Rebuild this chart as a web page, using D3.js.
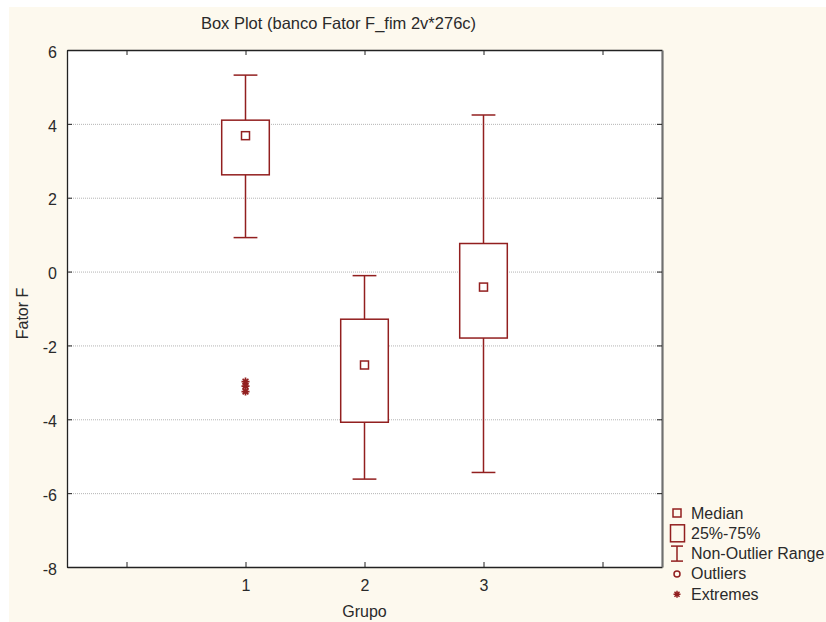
<!DOCTYPE html>
<html>
<head>
<meta charset="utf-8">
<script src="https://cdn.jsdelivr.net/npm/d3@7"></script>
<style>
  body { margin: 0; background: #ffffff; }
  text { font-family: "Liberation Sans", Arial, sans-serif; fill: #2a2a2a; }
</style>
</head>
<body>
<script>
// Box plot values
const groups = [1, 2, 3];
const medians = [3.68, -2.53, -0.42];
const q1 = [2.62, -4.08, -1.80];
const q3 = [4.10, -1.29, 0.76];
const whiskerLow = [0.92, -5.62, -5.44];
const whiskerHigh = [5.32, -0.11, 4.24];
const extremeGroup = [1, 1, 1];
const extremeValues = [-2.98, -3.10, -3.25];
const yTicks = [6, 4, 2, 0, -2, -4, -6, -8];
const xTicks = [0, 1, 2, 3, 4];
const legendItems = ["Median", "25%-75%", "Non-Outlier Range", "Outliers", "Extremes"];

const width = 826, height = 622;
const margin = { top: 50, bottom: 55, left: 67, right: 164 };
const red = "#921f1f";

let svg = d3.select('body')
            .append('svg')
            .attr('width', width)
            .attr('height', height);

// cream background
svg.append('rect')
   .attr('x', 9).attr('y', 7)
   .attr('width', width - 9).attr('height', height - 7)
   .attr('fill', '#fdf9ee');

const x = d3.scaleLinear()
    .domain([-0.5, 4.5])
    .range([margin.left, width - margin.right]);

const y = d3.scaleLinear()
    .domain([-8, 6])
    .range([height - margin.bottom, margin.top]);

// plot area
svg.append('rect')
   .attr('x', x(-0.5)).attr('y', y(6))
   .attr('width', x(4.5) - x(-0.5)).attr('height', y(-8) - y(6))
   .attr('fill', '#ffffff');

// grid lines
svg.append('g')
   .selectAll('line')
   .data(yTicks.filter(d => d > -8 && d < 6))
   .enter()
   .append('line')
   .attr('x1', x(-0.5)).attr('x2', x(4.5))
   .attr('y1', d => y(d) + 0.5).attr('y2', d => y(d) + 0.5)
   .attr('stroke', '#b4b4b4')
   .attr('stroke-dasharray', '1,1');

// axes
const axisLeft = svg.append('g')
   .attr('transform', `translate(${x(-0.5)},0)`)
   .call(d3.axisLeft(y).tickValues(yTicks).tickSizeInner(-5).tickSizeOuter(0).tickPadding(10)
         .tickFormat(d => String(d)));

const axisBottom = svg.append('g')
   .attr('transform', `translate(0,${y(-8)})`)
   .call(d3.axisBottom(x).tickValues(xTicks).tickSizeInner(-5).tickSizeOuter(0).tickPadding(13)
         .tickFormat(d => groups.includes(d) ? String(d) : ''));

svg.append('g')
   .attr('transform', `translate(0,${y(6)})`)
   .call(d3.axisTop(x).tickValues(xTicks).tickSizeInner(-5).tickSizeOuter(0).tickFormat(''));

const axisRight = svg.append('g')
   .attr('transform', `translate(${x(4.5)},0)`)
   .call(d3.axisRight(y).tickValues(yTicks).tickSizeInner(-5).tickSizeOuter(0).tickFormat(''));

svg.selectAll('.tick line').attr('stroke', '#222');
svg.selectAll('.domain').attr('stroke', '#222').attr('stroke-width', 1.3);
axisRight.select('.domain').attr('stroke', '#707070').attr('stroke-width', 2.2);
svg.selectAll('.tick text')
   .attr('font-size', 16)
   .attr('font-family', '"Liberation Sans", Arial, sans-serif')
   .attr('fill', '#2a2a2a');
axisLeft.selectAll('.tick text').attr('dy', '0.45em');

// title
svg.append('text')
   .attr('x', 338.5)
   .attr('y', 28.5)
   .attr('text-anchor', 'middle')
   .attr('font-size', 16.5)
   .text('Box Plot (banco Fator F_fim 2v*276c)');

// axis labels
svg.append('text')
   .attr('x', x(2))
   .attr('y', 617)
   .attr('text-anchor', 'middle')
   .attr('font-size', 16)
   .text('Grupo');

svg.append('text')
   .attr('transform', `translate(27.5,${(y(6) + y(-8)) / 2 + 5}) rotate(-90)`)
   .attr('text-anchor', 'middle')
   .attr('font-size', 16)
   .text('Fator F');

// asterisk symbol for extremes
const asterisk = {
    draw(ctx, size) {
        const r = Math.sqrt(size) / 2, d = r * 0.72;
        ctx.moveTo(0, -r); ctx.lineTo(0, r);
        ctx.moveTo(-r, 0); ctx.lineTo(r, 0);
        ctx.moveTo(-d, -d); ctx.lineTo(d, d);
        ctx.moveTo(-d, d); ctx.lineTo(d, -d);
    }
};

const boxHalf = 0.2, capHalf = 0.1, medSize = 8;

groups.forEach((g, i) => {
    const cx = x(g);
    // whiskers
    svg.append('line')
       .attr('x1', cx).attr('x2', cx)
       .attr('y1', y(whiskerHigh[i])).attr('y2', y(q3[i]))
       .attr('stroke', red).attr('stroke-width', 1.5);
    svg.append('line')
       .attr('x1', cx).attr('x2', cx)
       .attr('y1', y(q1[i])).attr('y2', y(whiskerLow[i]))
       .attr('stroke', red).attr('stroke-width', 1.5);
    [whiskerHigh[i], whiskerLow[i]].forEach(v => {
        svg.append('line')
           .attr('x1', x(g - capHalf)).attr('x2', x(g + capHalf))
           .attr('y1', y(v)).attr('y2', y(v))
           .attr('stroke', red).attr('stroke-width', 1.5);
    });
    // box
    svg.append('rect')
       .attr('x', x(g - boxHalf))
       .attr('y', y(q3[i]))
       .attr('width', x(g + boxHalf) - x(g - boxHalf))
       .attr('height', y(q1[i]) - y(q3[i]))
       .attr('fill', '#ffffff')
       .attr('stroke', red).attr('stroke-width', 1.5);
    // median
    svg.append('rect')
       .attr('x', cx - medSize / 2)
       .attr('y', y(medians[i]) - medSize / 2)
       .attr('width', medSize).attr('height', medSize)
       .attr('fill', '#ffffff')
       .attr('stroke', red).attr('stroke-width', 1.5);
});

// extremes
svg.selectAll('path.extreme')
   .data(extremeValues)
   .enter()
   .append('path')
   .attr('class', 'extreme')
   .attr('transform', (d, i) => `translate(${x(extremeGroup[i])},${y(d)})`)
   .attr('d', d3.symbol().type(asterisk).size(64))
   .attr('fill', 'none')
   .attr('stroke', red)
   .attr('stroke-width', 1.7);

// legend
const legend = svg.append('g')
                  .attr('transform', `translate(677, 513)`);
const rowH = 20.3;

legendItems.forEach((item, i) => {
    legend.append('text')
          .attr('x', 14)
          .attr('y', i * rowH + 5.5)
          .attr('font-size', 16)
          .text(item);
});

legend.append('rect')
      .attr('x', -4).attr('y', -4).attr('width', 8).attr('height', 8)
      .attr('fill', 'none').attr('stroke', red).attr('stroke-width', 1.5);
legend.append('rect')
      .attr('x', -6.5).attr('y', rowH - 8.5).attr('width', 14).attr('height', 17)
      .attr('fill', 'none').attr('stroke', red).attr('stroke-width', 1.5);
const ib = legend.append('g').attr('transform', `translate(0,${rowH * 2})`);
ib.append('line').attr('x1', 0).attr('x2', 0).attr('y1', -7.5).attr('y2', 7.5)
  .attr('stroke', red).attr('stroke-width', 1.5);
ib.append('line').attr('x1', -6).attr('x2', 6).attr('y1', -7.5).attr('y2', -7.5)
  .attr('stroke', red).attr('stroke-width', 1.5);
ib.append('line').attr('x1', -6).attr('x2', 6).attr('y1', 7.5).attr('y2', 7.5)
  .attr('stroke', red).attr('stroke-width', 1.5);
legend.append('circle')
      .attr('cx', 0).attr('cy', rowH * 3).attr('r', 3)
      .attr('fill', 'none').attr('stroke', red).attr('stroke-width', 1.5);
legend.append('path')
      .attr('transform', `translate(0,${rowH * 4})`)
      .attr('d', d3.symbol().type(asterisk).size(49))
      .attr('fill', 'none').attr('stroke', red).attr('stroke-width', 1.5);
</script>
</body>
</html>
